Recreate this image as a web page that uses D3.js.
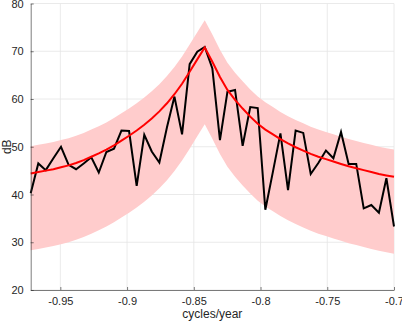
<!DOCTYPE html>
<html>
<head>
<meta charset="utf-8">
<script src="https://cdn.jsdelivr.net/npm/d3@7"></script>
<style>
  body { margin: 0; background: #fff; }
  svg { display: block; font-family: "Liberation Sans", Arial, sans-serif; }
</style>
</head>
<body>
<script>
// frequencies (cycles/year)
const freq = [-0.9722,-0.9665,-0.9609,-0.9552,-0.9495,-0.9438,-0.9382,-0.9325,-0.9268,-0.9212,
  -0.9155,-0.9098,-0.9042,-0.8985,-0.8928,-0.8871,-0.8815,-0.8758,-0.8701,-0.8645,
  -0.8588,-0.8531,-0.8474,-0.8418,-0.8361,-0.8304,-0.8248,-0.8191,-0.8134,-0.8077,
  -0.8021,-0.7964,-0.7907,-0.7851,-0.7794,-0.7737,-0.7680,-0.7624,-0.7567,-0.7510,
  -0.7454,-0.7397,-0.7340,-0.7283,-0.7227,-0.7170,-0.7113,-0.7057,-0.7000];

// raw spectrum (black)
const rawDb = [40.25,46.5,45.1,47.6,50.0,46.2,45.3,46.5,47.8,44.6,
  48.9,49.6,53.4,53.3,41.8,52.5,49.0,46.7,54.1,60.5,
  52.6,67.3,69.9,70.9,66.4,51.4,61.5,61.9,50.2,58.3,
  58.1,36.8,44.8,52.8,40.9,53.4,52.9,44.3,46.6,49.2,
  47.6,53.1,46.4,46.4,37.1,37.8,36.2,43.4,33.3];

// fitted spectrum (red)
const fitDb = [44.4,44.7,45.0,45.3,45.7,46.1,46.6,47.2,47.9,48.6,
  49.4,50.3,51.3,52.3,53.4,54.6,55.9,57.4,59.1,61.0,
  63.2,65.7,68.3,70.8,67.8,64.6,61.9,59.8,58.0,56.3,
  54.8,53.6,52.6,51.6,50.7,49.9,49.2,48.5,47.9,47.4,
  46.9,46.4,45.9,45.5,45.1,44.7,44.3,44.0,43.7];

// confidence band
const upperDb = [50.1,50.4,50.7,51.0,51.4,51.8,52.3,52.9,53.6,54.3,
  55.1,56.0,57.0,58.0,59.1,60.3,61.6,63.1,64.8,66.7,
  68.9,71.4,74.0,76.5,73.5,70.3,67.6,65.5,63.7,62.0,
  60.5,59.3,58.3,57.3,56.4,55.6,54.9,54.2,53.6,53.1,
  52.6,52.1,51.6,51.2,50.8,50.4,50.0,49.7,49.4];
const lowerDb = [28.3,28.6,28.9,29.2,29.6,30.0,30.5,31.1,31.8,32.5,
  33.3,34.2,35.2,36.2,37.3,38.5,39.8,41.3,43.0,44.9,
  47.1,49.6,52.2,54.7,51.7,48.5,45.8,43.7,41.9,40.2,
  38.7,37.5,36.5,35.5,34.6,33.8,33.1,32.4,31.8,31.3,
  30.8,30.3,29.8,29.4,29.0,28.6,28.2,27.9,27.6];

const xTicks = [-0.95, -0.9, -0.85, -0.8, -0.75, -0.7];
const xTickLabels = ['-0.95', '-0.9', '-0.85', '-0.8', '-0.75', '-0.7'];
const yTicks = [20, 30, 40, 50, 60, 70, 80];

const width = 402, height = 323;
const plotLeft = 30.7, plotRight = 394, plotTop = 3.5, plotBottom = 290;

const svg = d3.select('body').append('svg')
  .attr('width', width)
  .attr('height', height);

const x = d3.scaleLinear().domain([-0.9722, -0.7]).range([plotLeft, plotRight]);
const y = d3.scaleLinear().domain([20, 80]).range([plotBottom, plotTop]);

// grid
svg.append('g')
  .selectAll('line')
  .data(xTicks)
  .join('line')
  .attr('x1', d => x(d)).attr('x2', d => x(d))
  .attr('y1', plotTop).attr('y2', plotBottom)
  .attr('stroke', '#e4e4e4').attr('stroke-width', 0.8);

svg.append('g')
  .selectAll('line')
  .data(yTicks)
  .join('line')
  .attr('x1', plotLeft).attr('x2', plotRight)
  .attr('y1', d => y(d)).attr('y2', d => y(d))
  .attr('stroke', '#e4e4e4').attr('stroke-width', 0.8);

const idx = d3.range(freq.length);

// band
svg.append('path')
  .datum(idx)
  .attr('fill', '#ffcccc')
  .attr('d', d3.area()
    .x(i => x(freq[i]))
    .y0(i => y(lowerDb[i]))
    .y1(i => y(upperDb[i])));

// raw
svg.append('path')
  .datum(idx)
  .attr('fill', 'none')
  .attr('stroke', '#000')
  .attr('stroke-width', 2)
  .attr('d', d3.line().x(i => x(freq[i])).y(i => y(rawDb[i])));

// fit
svg.append('path')
  .datum(idx)
  .attr('fill', 'none')
  .attr('stroke', '#ff0000')
  .attr('stroke-width', 2)
  .attr('d', d3.line().x(i => x(freq[i])).y(i => y(fitDb[i])));

// axes
const xAxis = d3.axisBottom(x)
  .tickValues(xTicks)
  .tickFormat((d, i) => xTickLabels[i])
  .tickSizeInner(-3).tickSizeOuter(0).tickPadding(7);
const gx = svg.append('g')
  .attr('transform', `translate(0,${plotBottom})`)
  .call(xAxis);

const yAxis = d3.axisLeft(y)
  .tickValues(yTicks)
  .tickSizeInner(-3).tickSizeOuter(0).tickPadding(7);
const gy = svg.append('g')
  .attr('transform', `translate(${plotLeft},0)`)
  .call(yAxis);

[gx, gy].forEach(g => {
  g.select('.domain').attr('stroke', '#262626').attr('stroke-width', 0.6);
  g.selectAll('.tick line').attr('stroke', '#262626').attr('stroke-width', 0.6);
  g.selectAll('.tick text')
    .attr('fill', '#262626')
    .style('font-size', '11px')
    .style('font-family', '"Liberation Sans", Arial, sans-serif');
});

svg.append('text')
  .attr('x', (plotLeft + plotRight) / 2)
  .attr('y', 318)
  .attr('text-anchor', 'middle')
  .attr('fill', '#262626')
  .style('font-size', '12px')
  .text('cycles/year');

svg.append('text')
  .attr('transform', `translate(11,${(plotTop + plotBottom) / 2}) rotate(-90)`)
  .attr('text-anchor', 'middle')
  .attr('fill', '#262626')
  .style('font-size', '12px')
  .text('dB');
</script>
</body>
</html>
